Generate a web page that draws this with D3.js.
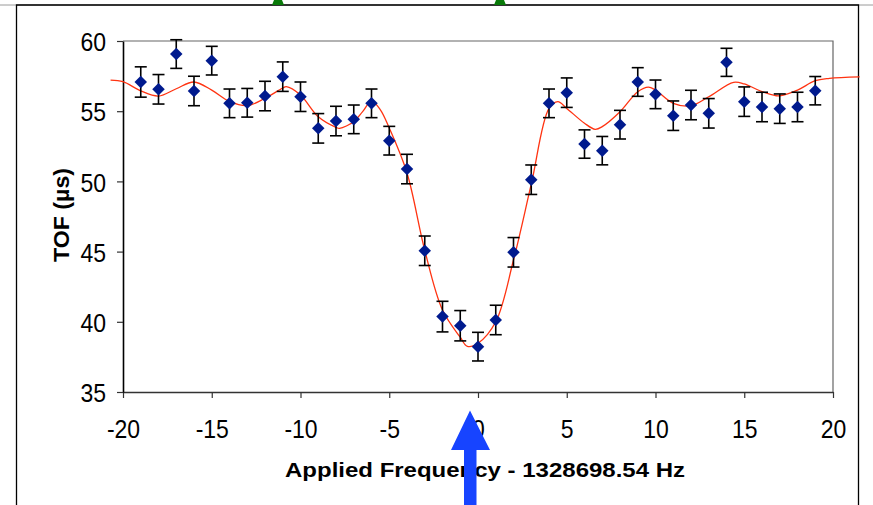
<!DOCTYPE html>
<html>
<head>
<meta charset="utf-8">
<script src="https://cdn.jsdelivr.net/npm/d3@7"></script>
<style>
  html, body { margin: 0; padding: 0; background: #fff; }
  svg { display: block; }
  text { font-family: "Liberation Sans", Arial, sans-serif; }
</style>
</head>
<body>
<svg id="chart" width="873" height="505"></svg>
<script>
// ---- data ----
const freqs = [-19,-18,-17,-16,-15,-14,-13,-12,-11,-10,-9,-8,-7,-6,-5,-4,-3,-2,-1,0,1,2,3,4,5,6,7,8,9,10,11,12,13,14,15,16,17,18,19];
const tof = [57.08,56.56,59.07,56.44,58.6,55.56,55.6,56.08,57.46,56.03,53.78,54.3,54.42,55.56,52.9,50.88,45.06,40.37,39.72,38.23,40.13,44.95,50.12,55.56,56.32,52.66,52.19,54.04,57.08,56.2,54.68,55.44,54.85,58.48,55.68,55.3,55.18,55.3,56.46];
const tofErr = [1.08,1.05,1.02,1.05,1.02,1.02,1.02,1.05,1.05,1.05,1.05,1.05,1.02,1.02,1.02,1.05,1.05,1.09,1.08,1.02,1.05,1.05,1.05,1.02,1.05,1.01,1.01,1.02,1.02,1.02,1.05,1.05,1.05,1.0,1.05,1.05,1.05,1.05,1.01];
const fitX = [-20.7,-20,-19,-18,-17,-16,-15,-14,-13,-12,-11,-10.8,-10,-9,-8,-7.8,-7,-6.5,-6,-5.5,-5,-4,-3,-2,-1,-0.6,0,1,2,3,4,4.5,5,6,6.6,7,8,9,9.6,10,11,12,13,14.4,15,16,16.8,17,18,19,19.8,21.5];
const fitY = [57.22,57.1,56.45,56.08,56.6,57.08,56.5,55.7,55.4,55.92,56.65,56.75,56.15,54.6,53.85,53.78,54.25,54.97,55.72,55.1,53.8,50.6,45.1,40.84,38.9,38.25,38.47,40.0,44.4,49.8,55.2,55.68,55.2,54.14,53.71,53.9,54.96,56.39,56.72,56.5,55.56,55.39,56.03,57.06,56.94,56.39,56.1,56.1,56.5,57.17,57.34,57.45];
const xTicks = [-20,-15,-10,-5,0,5,10,15,20];
const yTicks = [35,40,45,50,55,60];
const xTitle = "Applied Frequency - 1328698.54 Hz";
const yTitle = "TOF (µs)";

// ---- layout ----
const svg = d3.select("#chart");
const x = d3.scaleLinear().domain([-20, 20]).range([123, 833]);
const y = d3.scaleLinear().domain([35, 60]).range([392, 41]);
const stretch = 1.1;

// outer slide frame
svg.append("line").attr("x1",0).attr("x2",873).attr("y1",5).attr("y2",5)
  .attr("stroke","#9a9a9a").attr("stroke-width",1);
svg.append("path").attr("d","M16.5,505 V5 H858.5 V505")
  .attr("fill","none").attr("stroke","#000").attr("stroke-width",1.3);
// green glyph remnants above frame
[[272,284],[494,506]].forEach(([a,b])=>{
  svg.append("path").attr("d",`M${a+2},0 H${b-2} L${b},5 H${a} Z`).attr("fill","#0a7a0a");
});

// plot frame (top/right)
svg.append("path").attr("d",`M${x(-20)},${y(60)} H${x(20)} V${y(35)}`)
  .attr("fill","none").attr("stroke","#666").attr("stroke-width",1.2);

// axes
const gx = svg.append("g").attr("transform",`translate(0,${y(35)})`)
  .call(d3.axisBottom(x).tickValues(xTicks).tickSize(6).tickSizeOuter(0).tickFormat(d => String(d)));
gx.select(".domain").attr("stroke","#333").attr("stroke-width",1.6);
gx.selectAll(".tick line").attr("stroke","#333").attr("stroke-width",1.2);
gx.selectAll(".tick text").attr("font-size",23).attr("fill","#000")
  .attr("font-family","Liberation Sans, Arial, sans-serif")
  .attr("y",46/stretch).attr("dy",0).attr("transform",`scale(1,${stretch})`);

const gy = svg.append("g").attr("transform",`translate(${x(-20)},0)`)
  .call(d3.axisLeft(y).tickValues(yTicks).tickSize(6).tickSizeOuter(0).tickFormat(d => String(d)));
gy.select(".domain").attr("stroke","#000").attr("stroke-width",1.6);
gy.selectAll(".tick line").attr("stroke","#333").attr("stroke-width",1.2);
gy.selectAll(".tick text").attr("font-size",23).attr("fill","#000")
  .attr("font-family","Liberation Sans, Arial, sans-serif").attr("x",-17).attr("dy","0.38em")
  .attr("transform",`scale(1,${stretch})`);

// titles
svg.append("text").attr("x",485).attr("y",476.5).attr("text-anchor","middle")
  .attr("font-size",21).attr("font-weight","bold").attr("fill","#000")
  .attr("textLength",400).attr("lengthAdjust","spacingAndGlyphs").text(xTitle);
svg.append("text").attr("transform","translate(69,215) rotate(-90)").attr("text-anchor","middle")
  .attr("font-size",22).attr("font-weight","bold").attr("fill","#000")
  .attr("textLength",94).attr("lengthAdjust","spacingAndGlyphs").text(yTitle);

// fit curve (extends slightly beyond plot area, as in the original)
const fit = fitX.map((v,i)=>[v, fitY[i]]);
svg.append("path").datum(fit)
  .attr("fill","none").attr("stroke","#ff3311").attr("stroke-width",1.3)
  .attr("d", d3.line().x(d=>x(d[0])).y(d=>y(d[1])).curve(d3.curveCatmullRom.alpha(0.5)));

// data
const pts = freqs.map((f,i)=>({f, v:tof[i], e:tofErr[i]}));
const eb = svg.append("g").attr("stroke","#000").attr("stroke-width",1.6);
pts.forEach(p=>{
  const cx = x(p.f), y1 = y(p.v + p.e), y2 = y(p.v - p.e);
  eb.append("line").attr("x1",cx).attr("x2",cx).attr("y1",y1).attr("y2",y2);
  eb.append("line").attr("x1",cx-6).attr("x2",cx+6).attr("y1",y1).attr("y2",y1);
  eb.append("line").attr("x1",cx-6).attr("x2",cx+6).attr("y1",y2).attr("y2",y2);
});
svg.append("g").selectAll("path").data(pts).join("path")
  .attr("d", d3.symbol(d3.symbolSquare, 78)())
  .attr("transform", d=>`translate(${x(d.f)},${y(d.v)}) rotate(45)`)
  .attr("fill","#001a8e");

// blue arrow
svg.append("path").attr("d","M470,410.5 L490,450 L476.5,450 L476.5,505 L464,505 L464,450 L451,450 Z")
  .attr("fill","#1744ff");
</script>
</body>
</html>
